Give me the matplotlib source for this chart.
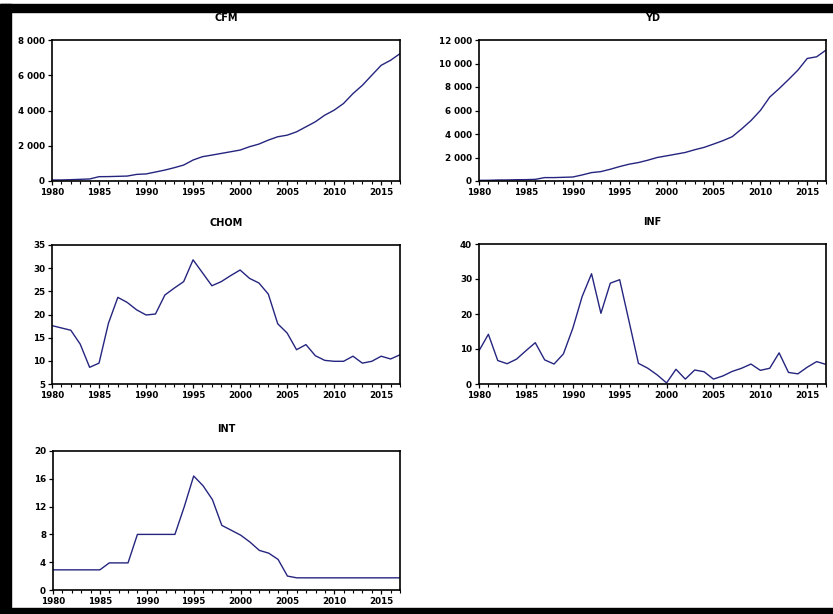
import matplotlib
matplotlib.use("Agg")
import matplotlib.pyplot as plt
import matplotlib.patches as mpatches
from matplotlib.ticker import FuncFormatter, MultipleLocator

years = list(range(1980, 2018))

cfm = [57, 60, 75, 95, 115, 245, 250, 265, 280, 375,
       400, 510, 620, 755, 905, 1190, 1380, 1470, 1565, 1660,
       1755, 1945, 2095, 2320, 2510, 2600, 2790, 3075, 3360, 3735,
       4020, 4400, 4960, 5430, 6000, 6565, 6850, 7225]

yd = [57, 60, 85, 90, 110, 115, 140, 290, 290, 315,
      340, 515, 715, 800, 1000, 1230, 1430, 1570, 1770, 2000,
      2140, 2285, 2430, 2660, 2860, 3140, 3430, 3770, 4430, 5140,
      6000, 7140, 7860, 8630, 9430, 10430, 10570, 11140]

chom = [17.6, 17.1, 16.6, 13.6, 8.6, 9.5, 18.1, 23.7, 22.6, 21.0,
        19.9, 20.1, 24.2, 25.7, 27.1, 31.8, 29.0, 26.2, 27.1, 28.4,
        29.6, 27.8, 26.8, 24.4, 18.0, 16.0, 12.4, 13.5, 11.1, 10.1,
        9.9, 9.9, 11.0, 9.5, 9.9, 11.0, 10.4, 11.3]

inf = [9.5, 14.2, 6.7, 5.8, 7.1, 9.5, 11.8, 6.9, 5.7, 8.6,
       15.9, 25.0, 31.5, 20.2, 28.8, 29.8, 17.9, 5.9, 4.5, 2.6,
       0.3, 4.2, 1.4, 4.0, 3.5, 1.4, 2.3, 3.6, 4.5, 5.7,
       3.9, 4.5, 8.9, 3.3, 2.9, 4.8, 6.4, 5.6]

intr = [2.9, 2.9, 2.9, 2.9, 2.9, 2.9, 3.9, 3.9, 3.9, 8.0,
        8.0, 8.0, 8.0, 8.0, 12.0, 16.4, 15.0, 13.0, 9.3, 8.6,
        7.9, 6.9, 5.7, 5.3, 4.4, 2.0, 1.75, 1.75, 1.75, 1.75,
        1.75, 1.75, 1.75, 1.75, 1.75, 1.75, 1.75, 1.75]

panels = [
    ("CFM", cfm, (0, 8000), 2000),
    ("YD", yd, (0, 12000), 2000),
    ("CHOM", chom, (5, 35), 5),
    ("INF", inf, (0, 40), 10),
    ("INT", intr, (0, 20), 4),
]

# axes boxes in pixels: left, top, right, bottom
W, H = 833, 614
boxes = [
    (52, 40, 400, 181),
    (479, 40, 826, 181),
    (52, 245, 400, 384),
    (479, 244, 826, 384),
    (53, 451, 400, 590),
]

line_color = "#252580"

fig = plt.figure(figsize=(W / 100, H / 100), dpi=100)


def thousands(v, pos):
    return f"{int(round(v)):,}".replace(",", " ")


for (name, values, ylim, step), (x0, y0, x1, y1) in zip(panels, boxes):
    ax = fig.add_axes([x0 / W, 1 - y1 / H, (x1 - x0) / W, (y1 - y0) / H])
    ax.plot(years, values, color=line_color, linewidth=1.0)
    ax.set_xlim(1980, 2017)
    ax.set_ylim(*ylim)
    ax.xaxis.set_major_locator(MultipleLocator(5))
    ax.xaxis.set_minor_locator(MultipleLocator(1))
    ax.yaxis.set_major_locator(MultipleLocator(step))
    if ylim[1] >= 1000:
        ax.yaxis.set_major_formatter(FuncFormatter(thousands))
    ax.tick_params(axis="both", which="major", direction="out", length=3,
                   width=0.9, labelsize=6.3, pad=2)
    ax.tick_params(axis="x", which="minor", direction="out", length=2, width=0.8)
    for lab in ax.get_xticklabels() + ax.get_yticklabels():
        lab.set_fontweight("bold")
    for sp in ax.spines.values():
        sp.set_linewidth(1.2)
    ax.text(0.5, 1 + 22 / (y1 - y0), name, transform=ax.transAxes,
            ha="center", va="center", fontsize=7, fontweight="bold")

# black frame of the screenshot
frame = [
    (0, 4, 11, H - 4),
    (0, 4, W, 8),
    (0, 608, W, 6),
]
for fx, fy, fw, fh in frame:
    fig.add_artist(mpatches.Rectangle((fx / W, 1 - (fy + fh) / H), fw / W, fh / H,
                                      transform=fig.transFigure, color="black",
                                      zorder=10))

fig.savefig("out.png", dpi=100)
